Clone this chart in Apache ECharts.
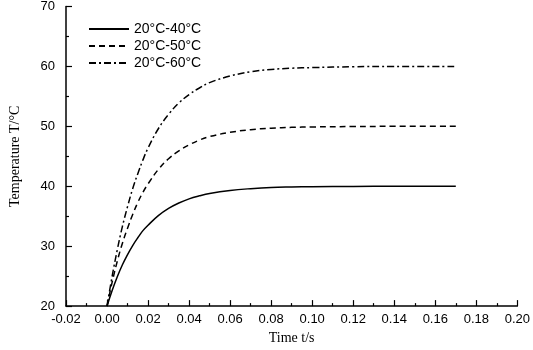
<!DOCTYPE html>
<html>
<head>
<meta charset="utf-8">
<script src="https://cdn.jsdelivr.net/npm/echarts@6/dist/echarts.min.js"></script>
<style>
  html, body { margin: 0; padding: 0; background: #fff; }
  #chart { width: 533px; height: 350px; }
</style>
</head>
<body>
<div id="chart"></div>
<script>
// time points (s)
const times = [0, 0.0025, 0.005, 0.0075, 0.01, 0.0125, 0.015, 0.0175, 0.02, 0.025, 0.03, 0.035, 0.04, 0.045, 0.05, 0.06, 0.07, 0.08, 0.09, 0.10, 0.12, 0.14, 0.17];
const temp40 = [20, 22.6, 24.9, 26.9, 28.6, 30.1, 31.4, 32.6, 33.5, 35.1, 36.3, 37.2, 37.9, 38.4, 38.8, 39.3, 39.6, 39.8, 39.88, 39.93, 39.98, 40, 40];
const temp50 = [20, 24.0, 27.5, 30.5, 33.0, 35.3, 37.3, 39.0, 40.4, 42.8, 44.6, 45.9, 46.9, 47.7, 48.3, 49.0, 49.45, 49.7, 49.83, 49.9, 49.97, 50, 50];
const temp60 = [20, 25.0, 29.4, 33.3, 36.6, 39.6, 42.1, 44.4, 46.4, 49.6, 52.0, 53.9, 55.3, 56.4, 57.3, 58.4, 59.1, 59.5, 59.7, 59.8, 59.95, 60, 60];
const seriesNames = ['20°C-40°C', '20°C-50°C', '20°C-60°C'];

const sans = "'Liberation Sans', Arial, sans-serif";
const serif = "'Liberation Serif', 'Times New Roman', serif";

const pairs = (ys) => times.map((t, i) => [t, ys[i]]);

let chart = echarts.init(document.getElementById('chart'), null, { renderer: 'canvas' });

const lineSeries = (name, ys, type) => ({
    name: name,
    type: 'line',
    data: pairs(ys),
    smooth: 0.4,
    showSymbol: false,
    symbol: 'none',
    itemStyle: { color: '#000' },
    lineStyle: { color: '#000', width: 1.5, type: type }
});

chart.setOption({
    animation: false,
    grid: { left: 61, right: 15, top: 6, bottom: 42 },
    legend: {
        left: 83, top: 17, orient: 'vertical',
        itemWidth: 40, itemHeight: 10, itemGap: 3,
        itemStyle: { opacity: 0 },
        textStyle: { fontFamily: sans, fontSize: 14, color: '#000' },
        data: seriesNames
    },
    xAxis: {
        type: 'value', min: -0.02, max: 0.20, interval: 0.02,
        name: 'Time t/s', nameLocation: 'middle', nameGap: 24,
        nameTextStyle: { fontFamily: serif, fontSize: 14, color: '#000' },
        axisLine: { onZero: false, lineStyle: { color: '#000', width: 1.5 } },
        axisTick: { inside: true, length: 6, lineStyle: { color: '#000', width: 1.2 } },
        minorTick: { show: true, splitNumber: 2, length: 3, lineStyle: { color: '#000', width: 1.2 } },
        axisLabel: { fontFamily: sans, fontSize: 13, color: '#000', margin: 7, formatter: v => v.toFixed(2) },
        splitLine: { show: false }
    },
    yAxis: {
        type: 'value', min: 20, max: 70, interval: 10,
        name: 'Temperature T/°C', nameLocation: 'middle', nameGap: 44,
        nameTextStyle: { fontFamily: serif, fontSize: 14, color: '#000' },
        axisLine: { show: true, onZero: false, lineStyle: { color: '#000', width: 1.5 } },
        axisTick: { show: true, inside: true, length: 6, lineStyle: { color: '#000', width: 1.2 } },
        minorTick: { show: true, splitNumber: 2, length: 3, lineStyle: { color: '#000', width: 1.2 } },
        axisLabel: { fontFamily: sans, fontSize: 13, color: '#000', margin: 11 },
        splitLine: { show: false }
    },
    series: [
        lineSeries(seriesNames[0], temp40, 'solid'),
        lineSeries(seriesNames[1], temp50, [6, 4]),
        lineSeries(seriesNames[2], temp60, [7, 3, 2, 3])
    ]
});
</script>
</body>
</html>
